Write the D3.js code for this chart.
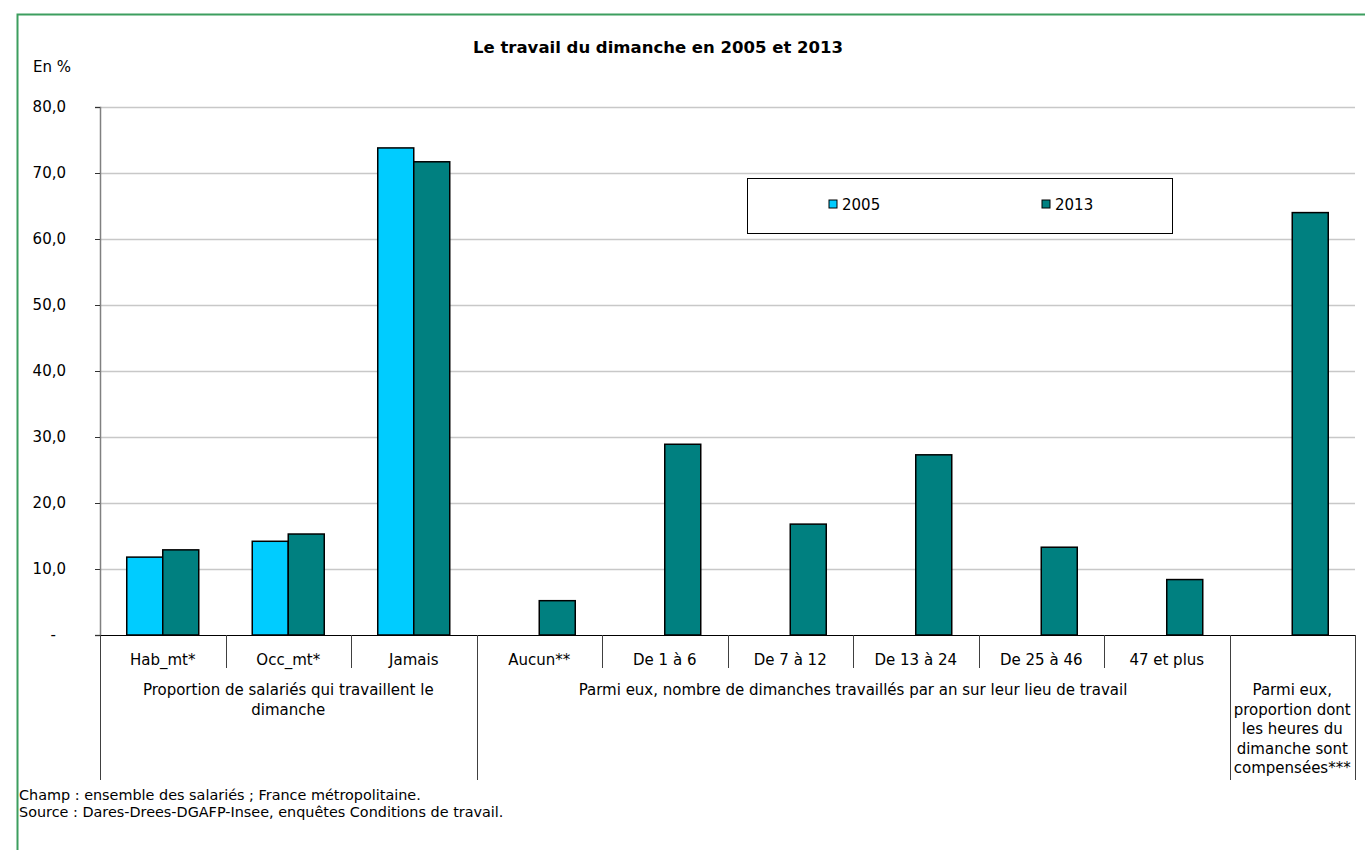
<!DOCTYPE html>
<html>
<head>
<meta charset="utf-8">
<script src="https://cdn.jsdelivr.net/npm/d3@7"></script>
<style>
  body { margin: 0; background: #fff; }
  text { font-family: "DejaVu Sans", Verdana, sans-serif; fill: #000; }
</style>
</head>
<body>
<div id="chart"></div>
<script>
// data
const categories = ["Hab_mt*", "Occ_mt*", "Jamais", "Aucun**", "De 1 à 6", "De 7 à 12",
    "De 13 à 24", "De 25 à 46", "47 et plus", "Parmi eux, proportion"];
const series = ["2005", "2013"];
const values2005 = [11.8, 14.2, 73.8, null, null, null, null, null, null, null];
const values2013 = [12.9, 15.3, 71.7, 5.2, 28.9, 16.8, 27.3, 13.3, 8.4, 64.0];
const yTicks = [0, 10, 20, 30, 40, 50, 60, 70, 80];
const groupLabels = [
    { from: 0, to: 2, lines: ["Proportion de salariés qui travaillent le", "dimanche"] },
    { from: 3, to: 8, lines: ["Parmi eux, nombre de dimanches travaillés par an sur leur lieu de travail"] },
    { from: 9, to: 9, lines: ["Parmi eux,", "proportion dont", "les heures du", "dimanche sont", "compensées***"] }
];
const catLabels = ["Hab_mt*", "Occ_mt*", "Jamais", "Aucun**", "De 1 à 6", "De 7 à 12",
    "De 13 à 24", "De 25 à 46", "47 et plus", ""];
const colors = { "2005": "#00ccff", "2013": "#008080" };

const W = 1365, H = 850;
const plot = { left: 100, right: 1355, top: 107, bottom: 635 };
const fs = "15px";

const svg = d3.select("#chart").append("svg")
    .attr("width", W)
    .attr("height", H);

// green frame
svg.append("rect")
    .attr("x", 17.5).attr("y", 14.5)
    .attr("width", 1400).attr("height", 900)
    .attr("fill", "none")
    .attr("stroke", "#3c9e5f")
    .attr("stroke-width", 2);

const x = d3.scaleBand()
    .domain(categories)
    .range([plot.left, plot.right])
    .padding(0);

const xSub = d3.scaleBand()
    .domain(series)
    .range([0, x.bandwidth()])
    .paddingInner(0)
    .paddingOuter(0.743);

const y = d3.scaleLinear()
    .domain([0, 80])
    .range([plot.bottom, plot.top]);

// gridlines
svg.append("g")
    .selectAll("line")
    .data(yTicks.filter(d => d > 0))
    .join("line")
    .attr("x1", plot.left).attr("x2", plot.right)
    .attr("y1", d => Math.round(y(d)) + 0.5).attr("y2", d => Math.round(y(d)) + 0.5)
    .attr("stroke", "#c8c8c8")
    .attr("stroke-width", 1.3);

// y axis
const yAxis = svg.append("g")
    .attr("transform", `translate(${plot.left},0)`)
    .call(d3.axisLeft(y).tickValues(yTicks).tickSize(5).tickPadding(29)
        .tickFormat(d => d === 0 ? "-" : d3.format(".1f")(d).replace(".", ",")));
yAxis.select(".domain").attr("stroke", "#808080").attr("stroke-width", 1.5);
yAxis.selectAll(".tick line").attr("stroke", "#333");
yAxis.selectAll(".tick text")
    .style("font-family", '"DejaVu Sans", Verdana, sans-serif')
    .style("font-size", fs)
    .attr("fill", "#000");
yAxis.selectAll(".tick text").filter(d => d === 0).attr("dx", -10);

svg.append("text")
    .attr("x", 33).attr("y", 72)
    .style("font-size", fs)
    .text("En %");

// title
svg.append("text")
    .attr("x", 658).attr("y", 53)
    .attr("text-anchor", "middle")
    .style("font-size", "16.5px")
    .style("font-weight", "bold")
    .text("Le travail du dimanche en 2005 et 2013");

// bars
const rows = categories.map((c, i) => ({ cat: c, "2005": values2005[i], "2013": values2013[i] }));
const barData = [];
rows.forEach(r => series.forEach(s => {
    if (r[s] != null) barData.push({ cat: r.cat, s: s, v: r[s] });
}));

svg.append("g")
    .selectAll("rect")
    .data(barData)
    .join("rect")
    .attr("x", d => x(d.cat) + xSub(d.s))
    .attr("y", d => y(d.v))
    .attr("width", xSub.bandwidth())
    .attr("height", d => y(0) - y(d.v))
    .attr("fill", d => colors[d.s])
    .attr("stroke", "#000")
    .attr("stroke-width", 1.5);

// x axis line
svg.append("line")
    .attr("x1", plot.left).attr("x2", plot.right)
    .attr("y1", plot.bottom + 0.5).attr("y2", plot.bottom + 0.5)
    .attr("stroke", "#000").attr("stroke-width", 1.2);

// category separators
const bounds = categories.map(c => x(c)).concat([plot.right]);
const groupBounds = new Set([0, 3, 9, 10]);
svg.append("g")
    .selectAll("line")
    .data(bounds.map((b, i) => ({ b, i })))
    .join("line")
    .attr("x1", d => Math.round(d.b) + 0.5).attr("x2", d => Math.round(d.b) + 0.5)
    .attr("y1", plot.bottom)
    .attr("y2", d => groupBounds.has(d.i) ? 780 : 668)
    .attr("stroke", "#404040")
    .attr("stroke-width", 1);

// category labels
svg.append("g")
    .selectAll("text")
    .data(categories)
    .join("text")
    .attr("x", d => x(d) + x.bandwidth() / 2)
    .attr("y", 665)
    .attr("text-anchor", "middle")
    .style("font-size", fs)
    .text((d, i) => catLabels[i]);

// group labels
groupLabels.forEach(g => {
    const cx = (x(categories[g.from]) + x(categories[g.to]) + x.bandwidth()) / 2;
    const t = svg.append("text")
        .attr("text-anchor", "middle")
        .style("font-size", fs);
    g.lines.forEach((l, k) => {
        t.append("tspan")
            .attr("x", cx)
            .attr("y", 695 + k * 19.6)
            .text(l);
    });
});

// legend
svg.append("rect")
    .attr("x", 747.5).attr("y", 178.5)
    .attr("width", 425).attr("height", 55)
    .attr("fill", "#fff")
    .attr("stroke", "#000")
    .attr("stroke-width", 1);

const legendX = { "2005": 829, "2013": 1042 };
series.forEach(s => {
    svg.append("rect")
        .attr("x", legendX[s]).attr("y", 200)
        .attr("width", 8).attr("height", 8)
        .attr("fill", colors[s])
        .attr("stroke", "#000")
        .attr("stroke-width", 1);
    svg.append("text")
        .attr("x", legendX[s] + 13).attr("y", 210)
        .style("font-size", fs)
        .text(s);
});

// footnotes
svg.append("text").attr("x", 19).attr("y", 800)
    .style("font-size", "14.4px")
    .text("Champ : ensemble des salariés ; France métropolitaine.");
svg.append("text").attr("x", 19).attr("y", 817)
    .style("font-size", "14.4px")
    .text("Source : Dares-Drees-DGAFP-Insee, enquêtes Conditions de travail.");
</script>
</body>
</html>
